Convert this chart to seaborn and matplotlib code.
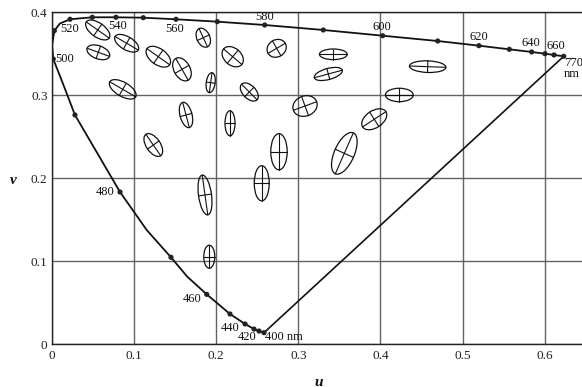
import numpy as np
import pandas as pd
import matplotlib
matplotlib.use("Agg")
import matplotlib.pyplot as plt
from matplotlib.patches import Ellipse
import seaborn as sns

# Spectral locus points (dots), from 400 nm to 770 nm
locus_u = [0.2583, 0.2522, 0.2461, 0.2352, 0.2169, 0.1886, 0.1451, 0.0831, 0.0283,
           0.0019, 0.0032, 0.0223, 0.0494, 0.0782, 0.1114, 0.1512, 0.2015, 0.2591,
           0.3304, 0.4027, 0.4696, 0.5198, 0.5567, 0.5839, 0.6001, 0.6111, 0.6229]
locus_v = [0.0140, 0.0160, 0.0184, 0.0245, 0.0365, 0.0602, 0.1048, 0.1835, 0.2763,
           0.3437, 0.3778, 0.3916, 0.3940, 0.3940, 0.3935, 0.3916, 0.3887, 0.3847,
           0.3787, 0.3718, 0.3654, 0.3598, 0.3554, 0.3522, 0.3501, 0.3486, 0.3470]

# Extra curve points (no dot) read from the picture where the locus bends
bend_u = [0.1650, 0.1156, 0.0135, 0.0005, 0.0100]
bend_v = [0.0814, 0.1377, 0.3145, 0.3600, 0.3865]
bend_after = [5, 6, 8, 9, 10]   # inserted after these locus indices

# Wavelength labels
wl_labels = ["400 nm", "420", "440", "460", "480", "500", "520", "540", "560",
             "580", "600", "620", "640", "660", "770", "nm"]
wl_u = [0.2595, 0.2494, 0.2290, 0.1825, 0.0770, 0.0040, 0.0100, 0.0806, 0.1490,
        0.2595, 0.4015, 0.5200, 0.5827, 0.6135, 0.6230, 0.6230]
wl_v = [0.0090, 0.0090, 0.0200, 0.0540, 0.1840, 0.3440, 0.3800, 0.3835, 0.3795,
        0.3940, 0.3820, 0.3700, 0.3627, 0.3594, 0.3385, 0.3255]
wl_ha = ["left", "right", "right", "right", "right", "left", "left", "center", "center",
         "center", "center", "center", "center", "center", "left", "left"]

# MacAdam ellipses: centre (u, v), semi-major, semi-minor, angle (deg)
ell_u = [0.0560, 0.0912, 0.0567, 0.0864, 0.1297, 0.1585, 0.1844, 0.1934, 0.2202,
         0.2404, 0.1634, 0.2169, 0.3082, 0.3365, 0.2765, 0.2555, 0.1865, 0.1917,
         0.3560, 0.3924, 0.4229, 0.4574, 0.3426, 0.2737, 0.1236]
ell_v = [0.3787, 0.3627, 0.3518, 0.3072, 0.3465, 0.3313, 0.3694, 0.3152, 0.3465,
         0.3040, 0.2763, 0.2663, 0.2871, 0.3257, 0.2320, 0.1940, 0.1799, 0.1055,
         0.2301, 0.2711, 0.3004, 0.3345, 0.3494, 0.3566, 0.2401]
ell_a = [0.0170, 0.0163, 0.0145, 0.0182, 0.0169, 0.0151, 0.0121, 0.0121, 0.0145,
         0.0133, 0.0157, 0.0151, 0.0151, 0.0176, 0.0218, 0.0212, 0.0242, 0.0139,
         0.0270, 0.0169, 0.0169, 0.0222, 0.0169, 0.0121, 0.0157]
ell_b = [0.0085, 0.0079, 0.0079, 0.0085, 0.0097, 0.0097, 0.0079, 0.0054, 0.0103,
         0.0079, 0.0073, 0.0061, 0.0121, 0.0067, 0.0100, 0.0091, 0.0079, 0.0067,
         0.0121, 0.0103, 0.0081, 0.0070, 0.0064, 0.0103, 0.0085]
ell_ang = [-35, -30, -20, -30, -35, -60, -65, 82, -40,
           -45, 105, 90, 20, 15, 90, 90, 98, 90,
           66, 33, 0, -2, 0, 30, -55]

x_ticks = [0, 0.1, 0.2, 0.3, 0.4, 0.5, 0.6]
x_tick_labels = ["0", "0.1", "0.2", "0.3", "0.4", "0.5", "0.6"]
y_ticks = [0, 0.1, 0.2, 0.3, 0.4]
y_tick_labels = ["0", "0.1", "0.2", "0.3", "0.4"]

sns.set_theme(style="white")
plt.rcParams['font.family'] = ['Liberation Serif', 'DejaVu Serif']

W, H = 582, 387
fig = plt.figure(figsize=(W / 100, H / 100), dpi=100)
ax = fig.add_axes([51.7 / W, (H - 344.3) / H, (W - 51.7) / W, (344.3 - 12.3) / H])

ax.set_xlim(0, (W - 51.7) / 822)
ax.set_ylim(0, 0.4)

# grid
ax.set_xticks(x_ticks)
ax.set_yticks(y_ticks)
ax.set_xticklabels(x_tick_labels)
ax.set_yticklabels(y_tick_labels)
ax.grid(True, color="#626262", linewidth=1.0)
ax.set_axisbelow(True)
ax.tick_params(axis="both", length=0, labelsize=9.5, colors="#222222")
ax.tick_params(axis="x", pad=4)
ax.tick_params(axis="y", pad=3)
for s in ["left", "bottom", "top"]:
    ax.spines[s].set_color("#222222")
    ax.spines[s].set_linewidth(1.0)
ax.spines["right"].set_visible(False)

# spectral locus curve (dots plus bend points)
cu, cv = [], []
for i in range(len(locus_u)):
    cu.append(locus_u[i]); cv.append(locus_v[i])
    if i in bend_after:
        k = bend_after.index(i)
        cu.append(bend_u[k]); cv.append(bend_v[k])
curve = pd.DataFrame({"u": cu, "v": cv})
sns.lineplot(data=curve, x="u", y="v", sort=False, estimator=None, color="#111111",
             linewidth=1.3, ax=ax)

# purple line
purple = pd.DataFrame({"u": [locus_u[0], locus_u[-1]], "v": [locus_v[0], locus_v[-1]]})
sns.lineplot(data=purple, x="u", y="v", sort=False, estimator=None, color="#111111",
             linewidth=1.2, ax=ax)

dots = pd.DataFrame({"u": locus_u, "v": locus_v})
sns.scatterplot(data=dots, x="u", y="v", s=14, color="#222222", edgecolor="none",
                ax=ax, zorder=5)

# ellipses with crosses
for u, v, a, b, ang in zip(ell_u, ell_v, ell_a, ell_b, ell_ang):
    e = Ellipse((u, v), 2 * a, 2 * b, angle=ang, fill=False, edgecolor="#111111",
                linewidth=0.9, zorder=4)
    ax.add_patch(e)
    t = np.deg2rad(ang)
    ca, sa = np.cos(t), np.sin(t)
    ax.plot([u - a * ca, u + a * ca], [v - a * sa, v + a * sa], color="#111111",
            linewidth=0.8, zorder=4)
    ax.plot([u + b * sa, u - b * sa], [v - b * ca, v + b * ca], color="#111111",
            linewidth=0.8, zorder=4)

for lab, u, v, ha in zip(wl_labels, wl_u, wl_v, wl_ha):
    ax.text(u, v, lab, ha=ha, va="center", fontsize=9, color="#111111", zorder=6)

ax.set_xlabel("")
ax.set_ylabel("")
fig.text(319 / W, (H - 382) / H, "u", ha="center", va="center", fontsize=11,
         style="italic", weight="bold", color="#111111")
fig.text(13 / W, (H - 180) / H, "v", ha="center", va="center", fontsize=11,
         style="italic", weight="bold", color="#111111")

fig.savefig("out.png", dpi=100)
